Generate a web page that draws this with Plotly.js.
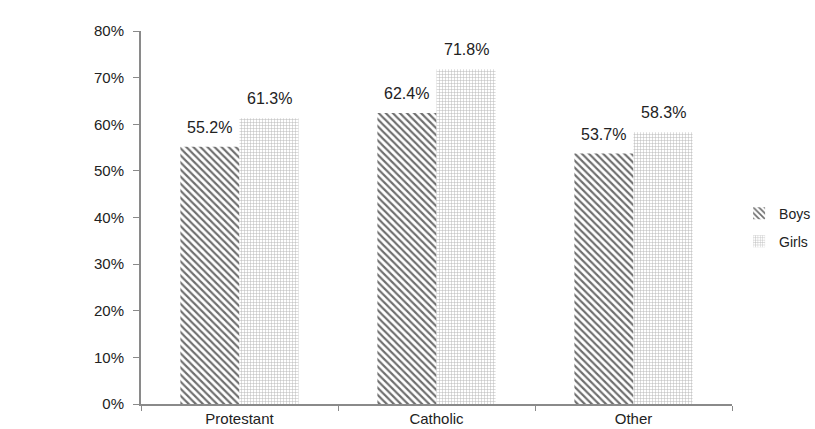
<!DOCTYPE html>
<html><head><meta charset="utf-8">
<script src="https://cdn.plot.ly/plotly-3.0.1.min.js"></script>
<style>body{margin:0;background:#fff}#c{width:815px;height:429px}</style>
</head><body><div id="c"></div>
<script>
const categories = ["Protestant", "Catholic", "Other"];
const boys = [55.2, 62.4, 53.7];
const girls = [61.3, 71.8, 58.3];
const yTickVals = [0, 10, 20, 30, 40, 50, 60, 70, 80];
const yTickText = ["0%", "10%", "20%", "30%", "40%", "50%", "60%", "70%", "80%"];

const labelFont = {family: "Liberation Sans, Arial, sans-serif", size: 16, color: "#222"};
const traces = [
  {type: "bar", name: "Boys", legendgroup: "b", x: categories, y: boys,
   marker: {color: "#ffffff", line: {width: 0},
     pattern: {shape: "\\", fgcolor: "#6e6e6e", bgcolor: "#ffffff", size: 5, solidity: 0.42}},
   hoverinfo: "none"},
  {type: "bar", name: "Girls", legendgroup: "g", x: categories, y: girls,
   marker: {color: "#ffffff", line: {width: 0},
     pattern: {shape: "+", fgcolor: "#b8b8b8", bgcolor: "#ffffff", size: 3, solidity: 0.3}},
   hoverinfo: "none"}
];

const annotations = [];
[[boys, -0.15], [girls, 0.15]].forEach(([vals, off]) => {
  vals.forEach((v, i) => {
    annotations.push({x: i + off, y: v, xref: "x", yref: "y", text: v.toFixed(1) + "%",
      showarrow: false, yanchor: "bottom", yshift: 9, font: labelFont});
  });
});

const layout = {
  width: 815, height: 429,
  margin: {l: 141, r: 83, t: 31, b: 25, autoexpand: false},
  paper_bgcolor: "#fff", plot_bgcolor: "#fff",
  font: {family: "Liberation Sans, Arial, sans-serif", size: 15, color: "#222"},
  barmode: "group", bargap: 0.4, bargroupgap: 0,
  showlegend: true,
  legend: {x: 1.012, y: 0.473, xanchor: "left", yanchor: "middle",
    font: {size: 14, color: "#222"}, itemwidth: 30, tracegroupgap: 7},
  annotations: annotations,
  xaxis: {type: "category", showline: true, linecolor: "#8a8a8a", linewidth: 2,
    ticks: "outside", tickson: "boundaries", ticklen: 5, tickcolor: "#8a8a8a", tickwidth: 1,
    showgrid: false, zeroline: false, tickfont: {size: 15}},
  yaxis: {range: [0, 80], tickvals: yTickVals, ticktext: yTickText,
    showline: true, linecolor: "#8a8a8a", linewidth: 2,
    ticks: "outside", ticklen: 6, tickcolor: "#8a8a8a", tickwidth: 1, ticklabelstandoff: 6,
    showgrid: false, zeroline: false, tickfont: {size: 15}}
};

Plotly.newPlot("c", traces, layout, {displayModeBar: false, staticPlot: true});
</script></body></html>
